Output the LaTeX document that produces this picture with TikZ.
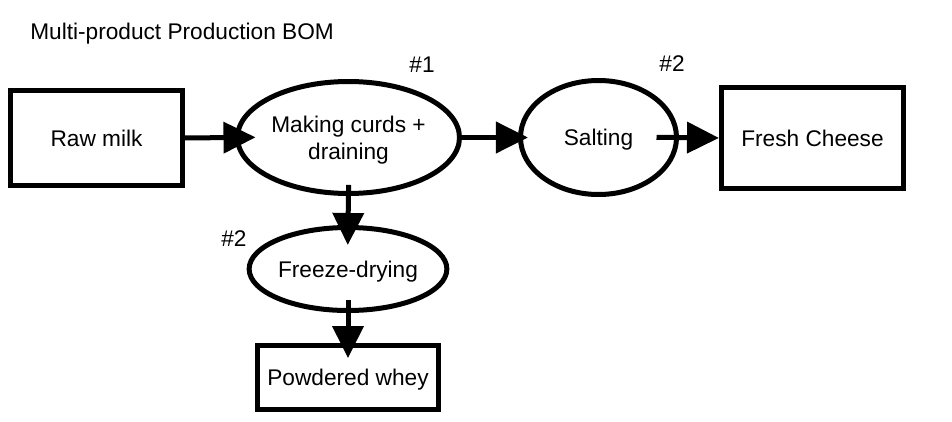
\documentclass[tikz,border=0pt]{standalone}
\usepackage{fontspec}
\setmainfont{Liberation Sans}
\usetikzlibrary{arrows.meta,shapes.geometric}
\tikzset{
  base/.style={line width=3.75pt, inner sep=0pt, outer sep=0pt, font=\fontsize{17}{20.25}\selectfont, align=center},
  oneline/.style={text height=12.2pt, text depth=0pt},
  boxnode/.style={base, oneline, draw, rectangle},
  ellnode/.style={base, draw, ellipse},
  lbl/.style={inner sep=0pt, oneline, font=\fontsize{17}{20.25}\selectfont},
  flow/.style={line width=3.75pt, -{Triangle[length=24pt,width=23pt]}}
}
\begin{document}
\begin{tikzpicture}[x=0.75pt,y=-0.75pt]
\useasboundingbox[fill=white] (0,0) rectangle (952,421);
\node[lbl, anchor=west] (title) at (30,31) {Multi-product Production BOM};
\node[boxnode, minimum width=129pt, minimum height=71.25pt] (raw) at (96.5,138) {Raw milk};
\node[ellnode, text height=32.25pt, text depth=0pt, minimum width=166.5pt, minimum height=84pt] (curds) at (348.5,137.5) {Making curds +\\draining};
\node[ellnode, oneline, minimum width=117pt, minimum height=85.5pt] (salt) at (598.5,137.5) {Salting};
\node[boxnode, minimum width=136.5pt, minimum height=75.75pt] (fresh) at (812.5,138) {Fresh Cheese};
\node[ellnode, oneline, minimum width=135.75pt, minimum height=62.25pt] (freeze) at (348,269) {Freeze-drying};
\node[boxnode, minimum width=135.75pt, minimum height=48pt] (powder) at (348,377.5) {Powdered whey};
\node[lbl] (n1) at (422,64) {\#1};
\node[lbl] (n2a) at (672,63) {\#2};
\node[lbl] (n2b) at (234,238) {\#2};
\draw[flow, shorten >=-13.5pt] (raw.east) -- (curds.west);
\draw[flow, shorten >=-5.6pt] (curds.east) -- (salt.west);
\draw[flow, shorten <=-15pt, shorten >=1.9pt] (salt.east) -- (fresh.west);
\draw[flow, shorten <=-6.4pt, shorten >=-13.1pt] (curds.south) -- (freeze.north);
\draw[flow, shorten <=-7.9pt, shorten >=-9.4pt] (freeze.south) -- (powder.north);
\end{tikzpicture}
\end{document}
